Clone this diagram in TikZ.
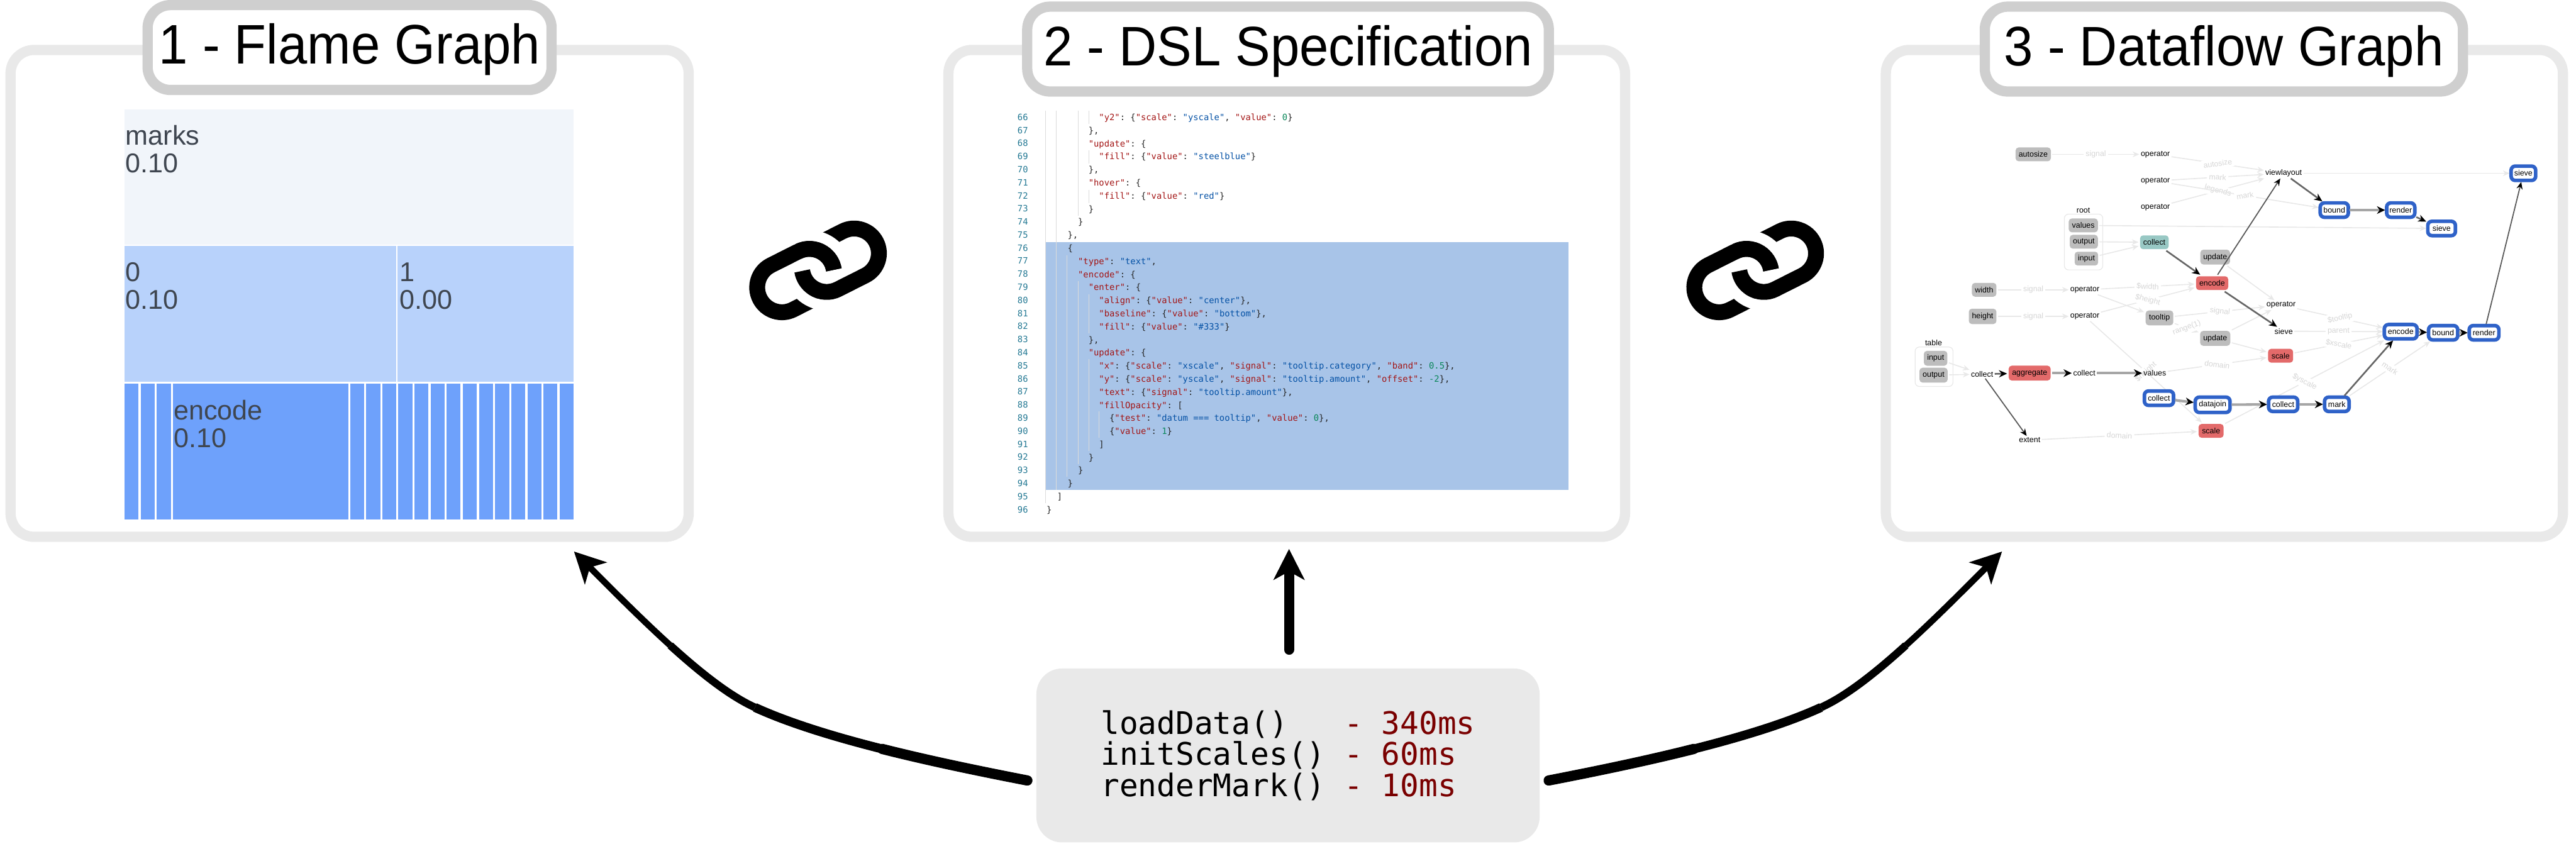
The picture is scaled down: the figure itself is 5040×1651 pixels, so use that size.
\documentclass[tikz,border=0pt]{standalone}
\usepackage{fontspec}
\setmainfont{Liberation Sans}
\setmonofont{DejaVu Sans Mono}
\newfontfamily\titlefont[FakeStretch=0.94]{Liberation Sans}
\usepackage{xcolor}
\usetikzlibrary{arrows.meta,backgrounds}
\definecolor{panelgray}{HTML}{E9E9E9}
\definecolor{titlegray}{HTML}{CFCFCF}
\definecolor{flamea}{HTML}{F1F5FA}
\definecolor{flameb}{HTML}{B8D2FB}
\definecolor{flamec}{HTML}{6EA1FB}
\definecolor{flametext}{HTML}{3F4650}
\definecolor{selblue}{HTML}{A8C4E8}
\definecolor{jsonkey}{HTML}{A31515}
\definecolor{jsonstr}{HTML}{0451A5}
\definecolor{jsonnum}{HTML}{098658}
\definecolor{linenum}{HTML}{237893}
\definecolor{opgray}{HTML}{BDBDBD}
\definecolor{opred}{HTML}{E36A6A}
\definecolor{opteal}{HTML}{98C8C4}
\definecolor{opblue}{HTML}{2F62C8}
\definecolor{timered}{HTML}{7A0000}
\newcommand{\ci}[1]{\hspace*{#1\dimexpr0.602em\relax}}
\newcommand{\jk}[1]{\textcolor{jsonkey}{"#1"}}
\newcommand{\js}[1]{\textcolor{jsonstr}{"#1"}}
\newcommand{\jn}[1]{\textcolor{jsonnum}{#1}}
\tikzset{
  linkicon/.pic={
    \begin{scope}[rotate=26.8, yscale=-1, line width=3.1mm]
    \draw (-25,46.5) -- (-78,46.5) arc (90:270:4.85mm) -- (-18,-50.5) arc (270:378:4.85mm);
    \draw[white, line width=2.1mm] (18,76.5) arc (90:198:7.45mm);
    \draw (25,-46.5) -- (78,-46.5) arc (-90:90:4.85mm) -- (18,50.5) arc (90:198:4.85mm);
    \draw[white, line width=2.1mm] (-18,-76.5) arc (270:378:7.45mm);
    \draw (-18,-50.5) arc (270:378:4.85mm);
    \end{scope}
  }
}

\begin{document}
\begin{tikzpicture}[
  x=0.01cm, y=0.01cm, yscale=-1,
  panel/.style={draw=panelgray, line width=2mm, rounded corners=4.6mm, minimum height=95.2mm},
  titlebox/.style={draw=titlegray, fill=white, line width=2mm, rounded corners=4.5mm, minimum height=16.6mm, text height=7.9mm, text depth=1.5mm, inner sep=0pt, font=\titlefont\fontsize{31}{36}\selectfont},
  flame/.style={anchor=north west, inner sep=0pt, minimum height=26.5mm},
  bar/.style={flame, fill=flamec, minimum width=2.75mm},
  flametxt/.style={anchor=north west, align=left, inner sep=0pt, text=flametext, font=\fontsize{15.1}{15.4}\selectfont},
  codetxt/.style={anchor=north west, align=left, inner sep=0pt, text=black!85, font=\ttfamily\fontsize{4.84}{7.275}\selectfont},
  guideline/.style={draw=black!14, line width=0.12mm},
  opnode/.style={inner sep=0pt, outer sep=0.3mm, font=\fontsize{4.35}{5}\selectfont},
  graybox/.style={opnode, fill=opgray, rounded corners=0.6mm, minimum height=2.7mm},
  redbox/.style={opnode, fill=opred, rounded corners=0.6mm, minimum height=2.7mm},
  bluebox/.style={opnode, draw=opblue, fill=white, line width=0.7mm, rounded corners=0.8mm, minimum height=2.8mm},
  groupbox/.style={draw=black!9, line width=0.15mm, rounded corners=0.8mm, inner sep=0pt},
  faintedge/.style={draw=black!9, line width=0.2mm, -{Stealth[length=1.3mm,width=1.1mm]}},
  thinedge/.style={draw=black!65, line width=0.22mm, -{Stealth[length=1.4mm,width=1.2mm,black]}},
  midedge/.style={draw=black!60, line width=0.32mm, -{Stealth[length=1.6mm,width=1.4mm,black]}},
  thickedge/.style={draw=black!35, line width=0.5mm, -{Stealth[length=1.6mm,width=1.5mm,black]}},
  edgelabel/.style={fill=white, inner sep=0.4mm, text=black!16, sloped, font=\fontsize{4.3}{5}\selectfont},
  bigarrow/.style={-{Stealth[length=6mm,width=6mm,inset=1.6mm]}}
]

\useasboundingbox (0,0) rectangle (5040,1651);

% three panels
\node[panel, minimum width=132.6mm] (flamepanel) at (684,574) {};
\node[panel, minimum width=132.3mm] (dslpanel) at (2517.5,574) {};
\node[panel, minimum width=132.4mm] (flowpanel) at (4352,574) {};

\node[titlebox, minimum width=79mm] (flametitle) at (684,93) {1 - Flame Graph};
\node[titlebox, minimum width=102mm] (dsltitle) at (2520,96) {2 - DSL Specification};
\node[titlebox, minimum width=93.5mm] (flowtitle) at (4351,96) {3 - Dataflow Graph};

% flame graph
\node[flame, fill=flamea, minimum width=87.8mm] (marks) at (243,213) {};
\node[flame, fill=flameb, minimum width=53.1mm] (zero) at (243,481) {};
\node[flame, fill=flameb, minimum width=34.4mm] (one) at (777,481) {};
\node[bar] (bara) at (243,750) {};
\node[bar] (barb) at (274.5,750) {};
\node[bar] (barc) at (306,750) {};
\node[flame, fill=flamec, minimum width=34.3mm] (encodebar) at (337.5,750) {};
\node[bar] (bard) at (684.5,750) {};
\node[bar] (bare) at (716,750) {};
\node[bar] (barf) at (747,750) {};
\node[bar] (barg) at (778.5,750) {};
\node[bar] (barh) at (810,750) {};
\node[bar] (bari) at (842,750) {};
\node[bar] (barj) at (873,750) {};
\node[bar] (bark) at (905,750) {};
\node[bar] (barl) at (936.5,750) {};
\node[bar] (barm) at (968,750) {};
\node[bar] (barn) at (999.5,750) {};
\node[bar] (baro) at (1031.5,750) {};
\node[bar] (barp) at (1062.5,750) {};
\node[bar] (barq) at (1094,750) {};

\node[flametxt] (markstxt) at (245,245) {marks\\0.10};
\node[flametxt] (zerotxt) at (245,513) {0\\0.10};
\node[flametxt] (onetxt) at (781,513) {1\\0.00};
\node[flametxt] (encodetxt) at (339,782) {encode\\0.10};

% dsl text
\node[fill=selblue, minimum width=102.2mm, minimum height=48.5mm, inner sep=0pt, anchor=north west] (selected) at (2046,473) {};

\draw[guideline] (2046,217) -- (2046,984);
\draw[guideline] (2067,217) -- (2067,959);
\draw[guideline] (2109,217) -- (2109,422);
\draw[guideline] (2130,217) -- (2130,243);
\draw[guideline] (2130,294) -- (2130,320);
\draw[guideline] (2130,371) -- (2130,397);
\draw[guideline] (2088,499) -- (2088,933);
\draw[guideline] (2109,550) -- (2109,908);
\draw[guideline] (2130,576) -- (2130,652);
\draw[guideline] (2130,703) -- (2130,882);
\draw[guideline] (2150,805) -- (2150,857);

\node[codetxt, align=right, anchor=north east, text=linenum] (linenums) at (2012,222) {66\\67\\68\\69\\70\\71\\72\\73\\74\\75\\76\\77\\78\\79\\80\\81\\82\\83\\84\\85\\86\\87\\88\\89\\90\\91\\92\\93\\94\\95\\96};
\node[codetxt] (dslcode) at (2047,222) {%
\ci{10}\jk{y2}: \{\jk{scale}: \js{yscale}, \jk{value}: \jn{0}\}\\
\ci{8}\},\\
\ci{8}\jk{update}: \{\\
\ci{10}\jk{fill}: \{\jk{value}: \js{steelblue}\}\\
\ci{8}\},\\
\ci{8}\jk{hover}: \{\\
\ci{10}\jk{fill}: \{\jk{value}: \js{red}\}\\
\ci{8}\}\\
\ci{6}\}\\
\ci{4}\},\\
\ci{4}\{\\
\ci{6}\jk{type}: \js{text},\\
\ci{6}\jk{encode}: \{\\
\ci{8}\jk{enter}: \{\\
\ci{10}\jk{align}: \{\jk{value}: \js{center}\},\\
\ci{10}\jk{baseline}: \{\jk{value}: \js{bottom}\},\\
\ci{10}\jk{fill}: \{\jk{value}: \js{\#333}\}\\
\ci{8}\},\\
\ci{8}\jk{update}: \{\\
\ci{10}\jk{x}: \{\jk{scale}: \js{xscale}, \jk{signal}: \js{tooltip.category}, \jk{band}: \jn{0.5}\},\\
\ci{10}\jk{y}: \{\jk{scale}: \js{yscale}, \jk{signal}: \js{tooltip.amount}, \jk{offset}: \jn{-2}\},\\
\ci{10}\jk{text}: \{\jk{signal}: \js{tooltip.amount}\},\\
\ci{10}\jk{fillOpacity}: [\\
\ci{12}\{\jk{test}: \js{datum === tooltip}, \jk{value}: \jn{0}\},\\
\ci{12}\{\jk{value}: \jn{1}\}\\
\ci{10}]\\
\ci{8}\}\\
\ci{6}\}\\
\ci{4}\}\\
\ci{2}]\\
\}};

% dataflow graph nodes
\node[graybox, minimum width=6.9mm] (autosize) at (3978,302) {autosize};
\node[opnode] (opauto) at (4217,302) {operator};
\node[opnode] (opmark) at (4217,354) {operator};
\node[opnode] (oplegend) at (4217,406) {operator};
\node[opnode] (viewlayout) at (4468,339) {viewlayout};
\node[bluebox, minimum width=4.8mm] (sievetop) at (4937,339) {sieve};
\node[bluebox, minimum width=5.5mm] (boundtop) at (4567,411) {bound};
\node[bluebox, minimum width=5.5mm] (rendertop) at (4697,411) {render};
\node[bluebox, minimum width=5.4mm] (sievemid) at (4777,447) {sieve};

\node[opnode] (rootlabel) at (4076,412) {root};
\node[groupbox, minimum width=7.5mm, minimum height=10.9mm] (rootgroup) at (4076.5,473.5) {};
\node[graybox, minimum width=5.7mm] (rootvalues) at (4076,441) {values};
\node[graybox, minimum width=5.5mm] (rootoutput) at (4077,473) {output};
\node[graybox, minimum width=4.6mm] (rootinput) at (4082,506) {input};
\node[opnode, fill=opteal, rounded corners=0.6mm, minimum width=5.6mm, minimum height=2.7mm] (collectroot) at (4215,474) {collect};
\node[graybox, minimum width=5.8mm, minimum height=2.9mm] (updatea) at (4334,503) {update};
\node[redbox, minimum width=6.3mm] (encodemark) at (4328,554) {encode};

\node[graybox, minimum width=4.8mm] (widthsig) at (3882,567) {width};
\node[graybox, minimum width=5.4mm, minimum height=3mm] (heightsig) at (3879,619) {height};
\node[opnode] (opwidth) at (4079,567) {operator};
\node[opnode] (opheight) at (4079,619) {operator};
\node[graybox, minimum width=5.4mm, minimum height=2.9mm] (tooltip) at (4225,622) {tooltip};
\node[opnode] (optip) at (4463,597) {operator};
\node[opnode] (sievelow) at (4468,648) {sieve};
\node[graybox, minimum width=5.9mm, minimum height=2.9mm] (updateb) at (4334,662) {update};
\node[redbox, minimum width=4.9mm] (scalex) at (4462,696) {scale};

\node[opnode] (tablelabel) at (3783,671) {table};
\node[groupbox, minimum width=7.4mm, minimum height=7.7mm] (tablegroup) at (3784,717.5) {};
\node[graybox, minimum width=4.6mm, minimum height=2.9mm] (tableinput) at (3787,701) {input};
\node[graybox, minimum width=5.5mm, minimum height=2.9mm] (tableoutput) at (3783,734) {output};
\node[opnode] (collecta) at (3878,732) {collect};
\node[redbox, minimum width=8.2mm, minimum height=2.9mm] (aggregate) at (3971,730) {aggregate};
\node[opnode] (collectb) at (4078,730) {collect};
\node[opnode] (values) at (4216,730) {values};
\node[opnode] (extent) at (3971,861) {extent};

\node[bluebox, minimum width=5.7mm] (collectc) at (4224,779) {collect};
\node[bluebox, minimum width=6.8mm, minimum height=3mm] (datajoin) at (4329,792) {datajoin};
\node[bluebox, minimum width=5.7mm] (collectd) at (4467,791) {collect};
\node[bluebox, minimum width=4.8mm] (markblue) at (4572,791) {mark};
\node[redbox, minimum width=4.9mm] (scaley) at (4326,843) {scale};
\node[bluebox, minimum width=6.4mm] (encodeblue) at (4697,649) {encode};
\node[bluebox, minimum width=5.7mm] (boundblue) at (4780,651) {bound};
\node[bluebox, minimum width=5.8mm] (renderblue) at (4860,651) {render};

% faint edges go under the nodes
\begin{pgfonlayer}{background}
\draw[faintedge] (autosize) -- node[edgelabel] {signal} (opauto);
\draw[faintedge] (opauto) -- node[edgelabel] {autosize} (viewlayout);
\draw[faintedge] (opmark) -- node[edgelabel] {mark} (viewlayout);
\draw[faintedge] (oplegend) -- node[edgelabel] {legends} (viewlayout);
\draw[faintedge] (opmark) -- node[edgelabel] {mark} (boundtop);
\draw[faintedge] (viewlayout) -- (sievetop);
\draw[faintedge] (rootvalues) -- (sievemid);
\draw[faintedge] (rootoutput) -- (collectroot);
\draw[faintedge] (rootinput) -- (collectroot);
\draw[faintedge] (updatea) -- (optip);
\draw[faintedge] (widthsig) -- node[edgelabel] {signal} (opwidth);
\draw[faintedge] (heightsig) -- node[edgelabel] {signal} (opheight);
\draw[faintedge] (opwidth) -- node[edgelabel] {\$width} (encodemark);
\draw[faintedge] (opheight) -- node[edgelabel] {\$height} (encodemark);
\draw[faintedge] (opwidth) -- (tooltip);
\draw[faintedge] (tooltip) -- node[edgelabel] {signal} (optip);
\draw[faintedge] (tooltip) -- node[edgelabel] {range(1)} (updateb);
\draw[faintedge] (updateb) -- (optip);
\draw[faintedge] (updateb) -- (scalex);
\draw[faintedge] (optip) -- node[edgelabel] {\$tooltip} (encodeblue);
\draw[faintedge] (sievelow) -- node[edgelabel] {parent} (encodeblue);
\draw[faintedge] (scalex) -- node[edgelabel] {\$xscale} (encodeblue);
\draw[faintedge] (scaley) -- node[edgelabel] {\$yscale} (encodeblue);
\draw[faintedge] (markblue) -- node[edgelabel] {mark} (boundblue);
\draw[faintedge] (values) -- node[edgelabel] {domain} (scalex);
\draw[faintedge] (extent) -- node[edgelabel] {domain} (scaley);
\draw[faintedge] (tableinput) -- (collecta);
\draw[faintedge] (tableoutput) -- (collecta);
\draw[faintedge] (opheight) -- node[edgelabel] {\$height} (scaley);
\end{pgfonlayer}

% dark edges
\draw[thinedge] (encodemark) -- (viewlayout);
\draw[thinedge] (renderblue) -- (sievetop);
\draw[thinedge] (collecta) -- (extent);
\draw[midedge] (viewlayout) -- (boundtop);
\draw[midedge] (collectroot) -- (encodemark);
\draw[midedge] (encodemark) -- (sievelow);
\draw[midedge] (markblue) -- (encodeblue);
\draw[midedge] (rendertop) -- (sievemid);
\draw[midedge] (collecta) -- (aggregate);
\draw[thickedge] (boundtop) -- (rendertop);
\draw[thickedge] (aggregate) -- (collectb);
\draw[thickedge] (collectb) -- (values);
\draw[thickedge] (collectc) -- (datajoin);
\draw[thickedge] (datajoin) -- (collectd);
\draw[thickedge] (collectd) -- (markblue);
\draw[thickedge] (encodeblue) -- (boundblue);
\draw[thickedge] (boundblue) -- (renderblue);

% link icons
\pic (linka) at (1600.5,529) {linkicon};
\pic (linkb) at (3434,529) {linkicon};

% timings box
\node[fill=panelgray, rounded corners=5mm, minimum width=98.4mm, minimum height=34mm, inner sep=0pt, align=left, font=\ttfamily\fontsize{17.3}{17.36}\selectfont] (timings) at (2520,1478) {%
loadData()\ci{2} \textcolor{timered}{- 340ms}\\
initScales() \textcolor{timered}{- 60ms}\\
renderMark() \textcolor{timered}{- 10ms}};

\coordinate (flamestart) at (2010,1527);
\coordinate (flamemida) at (1725.9,1465.25);
\coordinate (flamebend) at (1477,1384);
\coordinate (flamemidb) at (1311.25,1262.6);
\coordinate (flametip) at (1123,1079);
\coordinate (flowstart) at (3030,1527);
\coordinate (flowmida) at (3314.1,1465.25);
\coordinate (flowbend) at (3563,1384);
\coordinate (flowmidb) at (3728.75,1262.6);
\coordinate (flowtip) at (3917,1079);
\coordinate (dslstart) at (2522,1271);
\coordinate (dsltip) at (2522,1074);

\draw[line width=2mm, line cap=round] (flamestart) .. controls (1920,1509.5) and (1820,1489) .. (flamemida);
\draw[line width=1.75mm] (flamemida) .. controls (1631.75,1441.5) and (1543.5,1414.5) .. (flamebend);
\draw[line width=1.5mm] (flamebend) .. controls (1428.5,1362) and (1371.75,1317.5) .. (flamemidb);
\draw[bigarrow, line width=1.25mm] (flamemidb) .. controls (1250.75,1207.75) and (1186.5,1142.5) .. (flametip);
\draw[line width=2mm, line cap=round] (flowstart) .. controls (3120,1509.5) and (3220,1489) .. (flowmida);
\draw[line width=1.75mm] (flowmida) .. controls (3408.25,1441.5) and (3496.5,1414.5) .. (flowbend);
\draw[line width=1.5mm] (flowbend) .. controls (3611.5,1362) and (3668.25,1317.5) .. (flowmidb);
\draw[bigarrow, line width=1.25mm] (flowmidb) .. controls (3789.25,1207.75) and (3853.5,1142.5) .. (flowtip);
\draw[bigarrow, line width=2mm, line cap=round] (dslstart) -- (dsltip);

\end{tikzpicture}
\end{document}
